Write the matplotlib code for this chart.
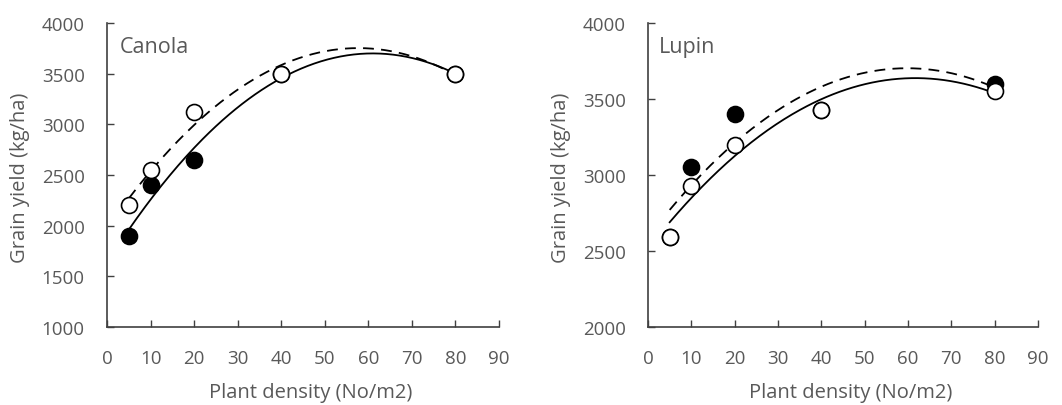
import numpy as np
import matplotlib
matplotlib.use("Agg")
import matplotlib.pyplot as plt

plt.rcParams['font.family'] = ['Open Sans', 'DejaVu Sans']

density = [5, 10, 20, 40, 80]

canola_open = [2200, 2550, 3120, 3500, 3500]
canola_filled = [1900, 2400, 2650, 3495, 3495]

lupin_open = [2590, 2930, 3200, 3430, 3550]
lupin_filled = [2590, 3050, 3400, 3430, 3600]

x_ticks = [0, 10, 20, 30, 40, 50, 60, 70, 80, 90]
canola_yticks = [1000, 1500, 2000, 2500, 3000, 3500, 4000]
lupin_yticks = [2000, 2500, 3000, 3500, 4000]

TEXT = '#595959'
AX = '#404040'

fig = plt.figure(figsize=(10.62, 4.06), dpi=100)
ax1 = fig.add_axes([107/1062, 78/406, 392/1062, 304/406])
ax2 = fig.add_axes([648/1062, 78/406, 390/1062, 304/406])


def trend(ax, x, y, ls):
    c = np.polyfit(x, y, 2)
    xs = np.linspace(min(x), max(x), 200)
    if ls == '--':
        ax.plot(xs, np.polyval(c, xs), color='black', lw=1.3, ls='--',
                dashes=(6, 4), zorder=2)
    else:
        ax.plot(xs, np.polyval(c, xs), color='black', lw=1.3, ls='-', zorder=2)


def panel(ax, name, yop, yfi, yticks, dash_open, name_x):
    trend(ax, density, yfi, '-' if dash_open else '--')
    trend(ax, density, yop, '--' if dash_open else '-')
    ax.plot(density, yfi, 'o', ms=11.5, mfc='black', mec='black', mew=1.2, zorder=3)
    ax.plot(density, yop, 'o', ms=11.5, mfc='white', mec='black', mew=1.2, zorder=4)
    ax.set_xlim(0, 90)
    ax.set_ylim(yticks[0], yticks[-1])
    ax.set_xticks(x_ticks)
    ax.set_yticks(yticks)
    for s in ['top', 'right']:
        ax.spines[s].set_visible(False)
    for s in ['left', 'bottom']:
        ax.spines[s].set_color(AX)
        ax.spines[s].set_linewidth(1.2)
    ax.tick_params(direction='in', length=5, width=1.0, color=AX,
                   labelcolor=TEXT, labelsize=13.5)
    ax.tick_params(axis='x', pad=16)
    ax.tick_params(axis='y', pad=16)
    ax.set_xlabel('Plant density (No/m2)', color=TEXT, fontsize=14.5, va='center')
    ax.set_ylabel('Grain yield (kg/ha)', color=TEXT, fontsize=14.5, va='center')
    ax.xaxis.set_label_coords(0.52, -0.214)
    ax.yaxis.set_label_coords(-0.222, 0.495)
    ax.text(name_x, 0.905, name, transform=ax.transAxes, color=TEXT,
            fontsize=15.5, va='baseline', ha='left')
    for sp in ax.spines.values():
        sp.set_clip_on(False)


panel(ax1, 'Canola', canola_open, canola_filled, canola_yticks, True, 0.033)
panel(ax2, 'Lupin', lupin_open, lupin_filled, lupin_yticks, False, 0.028)

fig.savefig('out.png', dpi=100)
